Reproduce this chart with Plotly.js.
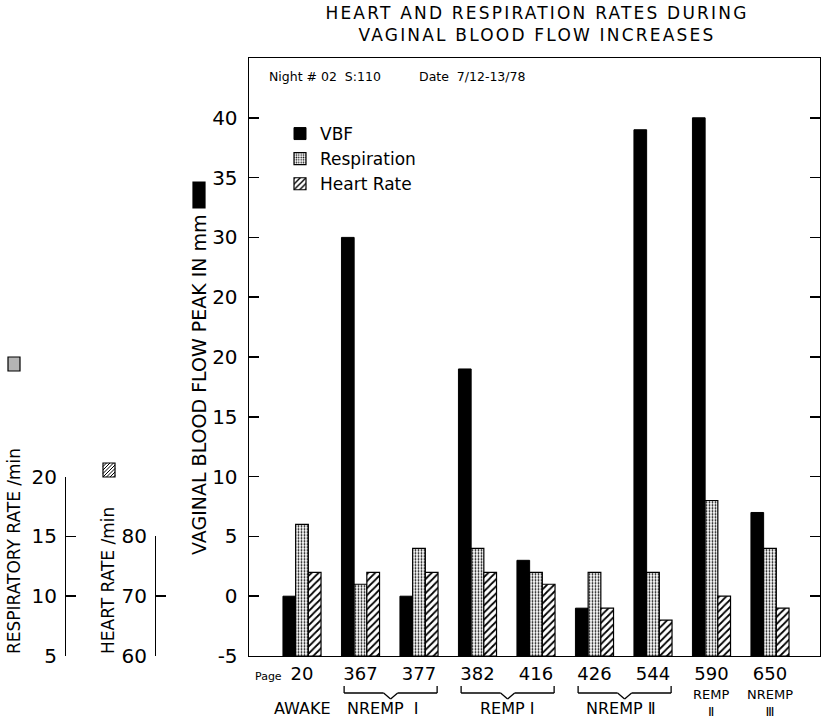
<!DOCTYPE html>
<html><head><meta charset="utf-8">
<script src="https://cdn.plot.ly/plotly-3.0.1.min.js"></script>
<style>
html,body{margin:0;padding:0;background:#fff;}
#chart{width:825px;height:720px;}
#chart .gtitle{letter-spacing:2.2px;}
</style></head><body>
<div id="chart"></div>
<script>
// ---- data ----
const pages = ['20','367','377','382','416','426','544','590','650'];
const vbfPeak = [0, 30, 0, 19, 3, -1, 39, 40, 7];          // mm
const respRate = [16, 11, 14, 14, 12, 12, 12, 18, 14];     // breaths / min
const heartRate = [74, 74, 74, 74, 72, 68, 66, 70, 68];    // beats / min
const vbfTickVals = [-5, 0, 5, 10, 15, 20, 25, 30, 35, 40];
const vbfTickText = ['-5', '0', '5', '10', '15', '20', '20', '30', '35', '40'];
const respTickVals = [5, 10, 15, 20];
const hrTickVals = [60, 70, 80];
const stageNames = ['AWAKE', 'NREMP  Ⅰ', 'REMP Ⅰ', 'NREMP Ⅱ', 'REMP<br>Ⅱ', 'NREMP<br>Ⅲ'];
const stageSpans = [[0, 0], [1, 2], [3, 4], [5, 6], [7, 7], [8, 8]];

// ---- layout helpers ----
const W = 825, H = 720, ML = 0, MR = 5, MT = 58, MB = 64;
const PW = W - ML - MR, PH = H - MT - MB;
const px = x => (x - ML) / PW;
const py = y => (H - MB - y) / PH;
const FONT = 'DejaVu Sans';
const INK = '#000';

const VBF_RANGE = [-5, 45];
const RESP_RANGE = [5, 20];
const HR_RANGE = [60, 80];
const vbfSpan = VBF_RANGE[1] - VBF_RANGE[0];
const respDomTop = (RESP_RANGE[1] - RESP_RANGE[0]) / vbfSpan;       // 1 resp unit = 1 vbf unit
const hrDomTop = (HR_RANGE[1] - HR_RANGE[0]) / 2 / vbfSpan;          // 2 bpm = 1 vbf unit

const BW = 0.217;

const traces = [
  {type: 'bar', name: 'VBF', x: pages, base: VBF_RANGE[0],
   y: vbfPeak.map(v => v - VBF_RANGE[0]), width: BW, offset: -1.5 * BW,
   xaxis: 'x', yaxis: 'y',
   marker: {color: INK, line: {color: INK, width: 1}}, hoverinfo: 'skip'},
  {type: 'bar', name: 'Respiration', x: pages, base: RESP_RANGE[0],
   y: respRate.map(v => v - RESP_RANGE[0]), width: BW, offset: -0.5 * BW,
   xaxis: 'x', yaxis: 'y2',
   marker: {color: '#fff', line: {color: INK, width: 1.2},
            pattern: {shape: '.', fgcolor: INK, bgcolor: '#fff', size: 3, solidity: 0.3}}, hoverinfo: 'skip'},
  {type: 'bar', name: 'Heart Rate', x: pages, base: HR_RANGE[0],
   y: heartRate.map(v => v - HR_RANGE[0]), width: BW, offset: 0.5 * BW,
   xaxis: 'x', yaxis: 'y3',
   marker: {color: '#fff', line: {color: INK, width: 1.2},
            pattern: {shape: '/', fgcolor: INK, bgcolor: '#fff', size: 5, solidity: 0.35}}, hoverinfo: 'skip'}
];

// ---- decorations ----
const shapes = [];
const annotations = [];

// braces under grouped pages
stageSpans.forEach(([a, b]) => {
  if (a === b) return;
  const x0 = a - 0.28, x1 = b + 0.31, xc = (x0 + x1) / 2, n = 0.12;
  const yT = py(686), yM = py(693), yP = py(699);
  const segs = [[x0, yT, x0, yM], [x0, yM, xc - n, yM], [xc - n, yM, xc, yP],
                [xc, yP, xc + n, yM], [xc + n, yM, x1, yM], [x1, yM, x1, yT]];
  segs.forEach(s => shapes.push({type: 'line', xref: 'x', yref: 'paper',
    x0: s[0], y0: s[1], x1: s[2], y1: s[3], line: {color: INK, width: 1.3}}));
});

function note(x, y, text, size, extra) {
  annotations.push(Object.assign({xref: 'paper', yref: 'paper', x: px(x), y: py(y), text: text,
    showarrow: false, xanchor: 'center', yanchor: 'middle',
    font: {family: FONT, size: size, color: INK}}, extra || {}));
}

// stage labels (NREMP I sits slightly left of its brace in the original)
const stageNudge = [0, -0.12, 0, -0.05, 0, 0];
stageSpans.forEach(([a, b], i) => {
  const two = stageNames[i].includes('<br>');
  annotations.push({xref: 'x', yref: 'paper', x: (a + b) / 2 + stageNudge[i], y: two ? py(703) : py(708),
    text: stageNames[i], showarrow: false, xanchor: 'center', yanchor: 'middle',
    font: {family: FONT, size: two ? 13 : 16, color: INK}});
});

note(253, 676, 'Page', 11, {xanchor: 'left'});
note(267, 77, 'Night # 02  S:110', 12.5, {xanchor: 'left'});
note(417, 77, 'Date  7/12-13/78', 12.5, {xanchor: 'left'});

// rotated axis titles
note(199, 385, 'VAGINAL BLOOD FLOW PEAK IN mm', 19, {textangle: -90});
note(14, 551, 'RESPIRATORY RATE /min', 17, {textangle: -90});
note(108, 581, 'HEART RATE /min', 17, {textangle: -90});

// key squares beside the axis titles
function rect(x0, y0, x1, y1, fill) {
  shapes.push({type: 'rect', xref: 'paper', yref: 'paper', x0: px(x0), x1: px(x1), y0: py(y0), y1: py(y1),
    fillcolor: fill, line: {color: INK, width: 1.2}});
}
rect(193, 182, 205, 208, INK);
rect(8, 357, 20, 371, '#b4b4b4');
rect(103, 463, 115, 477, '#fff');
(function hatch(x0, y0, x1, y1, step) {
  for (let c = x0 + y0 + step; c < x1 + y1; c += step) {
    const sx = Math.max(x0, c - y1), ex = Math.min(x1, c - y0);
    if (ex <= sx) continue;
    shapes.push({type: 'line', xref: 'paper', yref: 'paper',
      x0: px(sx), y0: py(c - sx), x1: px(ex), y1: py(c - ex), line: {color: INK, width: 1}});
  }
})(103, 463, 115, 477, 3.5);

const axisBase = {showgrid: false, zeroline: false, showline: true, linecolor: INK, linewidth: 1.4,
  ticks: 'inside', ticklen: 10, tickwidth: 1.5, tickcolor: INK, fixedrange: true,
  tickfont: {family: FONT, size: 20, color: INK}};

const layout = {
  width: W, height: H,
  margin: {l: ML, r: MR, t: MT, b: MB},
  paper_bgcolor: '#fff', plot_bgcolor: 'rgba(0,0,0,0)',
  barmode: 'overlay',
  title: {text: 'HEART AND RESPIRATION RATES DURING<br>VAGINAL BLOOD FLOW INCREASES',
    xref: 'paper', x: px(537), xanchor: 'center', yref: 'container', y: 1 - 18.5 / H, yanchor: 'top',
    font: {family: FONT, size: 17, color: INK}},
  xaxis: {type: 'category', domain: [px(249), 1], range: [-0.906, 8.855],
    showgrid: false, zeroline: false, showline: true, mirror: true, linecolor: INK, linewidth: 1.4,
    ticks: '', fixedrange: true, ticklabelstandoff: 1,
    tickfont: {family: FONT, size: 18, color: INK}},
  yaxis: Object.assign({}, axisBase, {range: VBF_RANGE, domain: [0, 1], mirror: 'ticks',
    tickmode: 'array', tickvals: vbfTickVals, ticktext: vbfTickText, ticklabelstandoff: 6}),
  yaxis2: Object.assign({}, axisBase, {range: RESP_RANGE, domain: [0, respDomTop],
    anchor: 'free', position: px(65), tickmode: 'array', tickvals: respTickVals, ticklabelstandoff: 4}),
  yaxis3: Object.assign({}, axisBase, {range: HR_RANGE, domain: [0, hrDomTop],
    anchor: 'free', position: px(155), tickmode: 'array', tickvals: hrTickVals, ticklabelstandoff: 4}),
  showlegend: true,
  legend: {x: px(280), y: py(116), xanchor: 'left', yanchor: 'top', bgcolor: 'rgba(0,0,0,0)',
    borderwidth: 0, tracegroupgap: 0, traceorder: 'normal',
    font: {family: FONT, size: 17, color: INK}},
  shapes: shapes,
  annotations: annotations
};

Plotly.newPlot('chart', traces, layout, {displayModeBar: false, staticPlot: true});
</script>
</body></html>
